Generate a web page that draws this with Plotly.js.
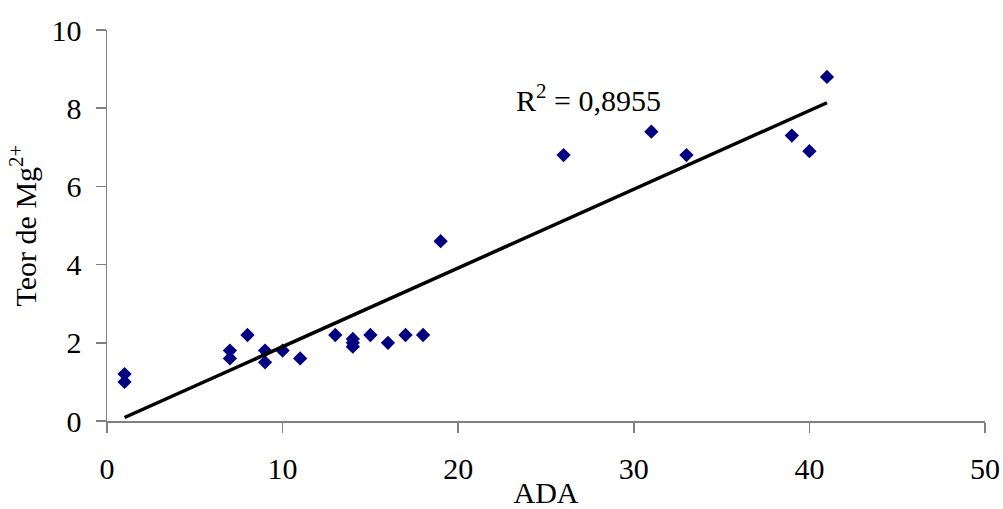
<!DOCTYPE html>
<html>
<head>
<meta charset="utf-8">
<script src="https://cdn.plot.ly/plotly-3.0.1.min.js"></script>
<style>html,body{margin:0;padding:0;background:#fff;}#chart{width:1003px;height:509px;}</style>
</head>
<body>
<div id="chart"></div>
<script>
var adaValues = [1, 1, 7, 7, 8, 9, 9, 10, 11, 13, 14, 14, 14, 15, 16, 17, 18, 19, 26, 31, 33, 39, 40, 41];
var mgValues  = [1.2, 1.0, 1.8, 1.6, 2.2, 1.8, 1.5, 1.8, 1.6, 2.2, 2.1, 2.0, 1.9, 2.2, 2.0, 2.2, 2.2, 4.6, 6.8, 7.4, 6.8, 7.3, 6.9, 8.8];
// Linear trendline as drawn in the reference (read at its two ends)
var trendAda = [1, 41];
var trendMg  = [0.09, 8.14];
var r2Label = "R<sup>2</sup> = 0,8955";
var xTitle = "ADA";
var yTitle = "Teor de Mg<sup>2+</sup>";

var font = {family: "Liberation Serif, Times New Roman, serif", size: 30, color: "#000"};

var data = [
  {x: adaValues, y: mgValues, type: "scatter", mode: "markers",
   marker: {symbol: "diamond", color: "#000080", size: 11}, showlegend: false, hoverinfo: "x+y"},
  {x: trendAda, y: trendMg, type: "scatter", mode: "lines",
   line: {color: "#000", width: 3.5}, showlegend: false, hoverinfo: "skip"}
];

var layout = {
  width: 1003, height: 509,
  margin: {l: 107, r: 18, t: 30, b: 88},
  paper_bgcolor: "#fff", plot_bgcolor: "#fff",
  font: font,
  showlegend: false,
  xaxis: {
    range: [0, 50], dtick: 10, tick0: 0, showgrid: false, zeroline: false,
    showline: true, linecolor: "#808080", linewidth: 1.5,
    ticks: "outside", ticklen: 10, tickcolor: "#808080", tickwidth: 1.5,
    ticklabelstandoff: 10,
    tickfont: font,
    title: {text: xTitle, font: font, standoff: 8}
  },
  yaxis: {
    range: [0, 10], dtick: 2, tick0: 0, showgrid: false, zeroline: false,
    showline: true, linecolor: "#808080", linewidth: 1.5,
    ticks: "outside", ticklen: 10, tickcolor: "#808080", tickwidth: 1.5,
    ticklabelstandoff: 8,
    tickfont: font,
    title: {text: yTitle, font: font, standoff: 6}
  },
  annotations: [
    {x: 23.2, y: 8.25, xref: "x", yref: "y", text: r2Label, showarrow: false,
     xanchor: "left", yanchor: "middle", font: font}
  ]
};

Plotly.newPlot("chart", data, layout, {staticPlot: true, displayModeBar: false});
</script>
</body>
</html>
